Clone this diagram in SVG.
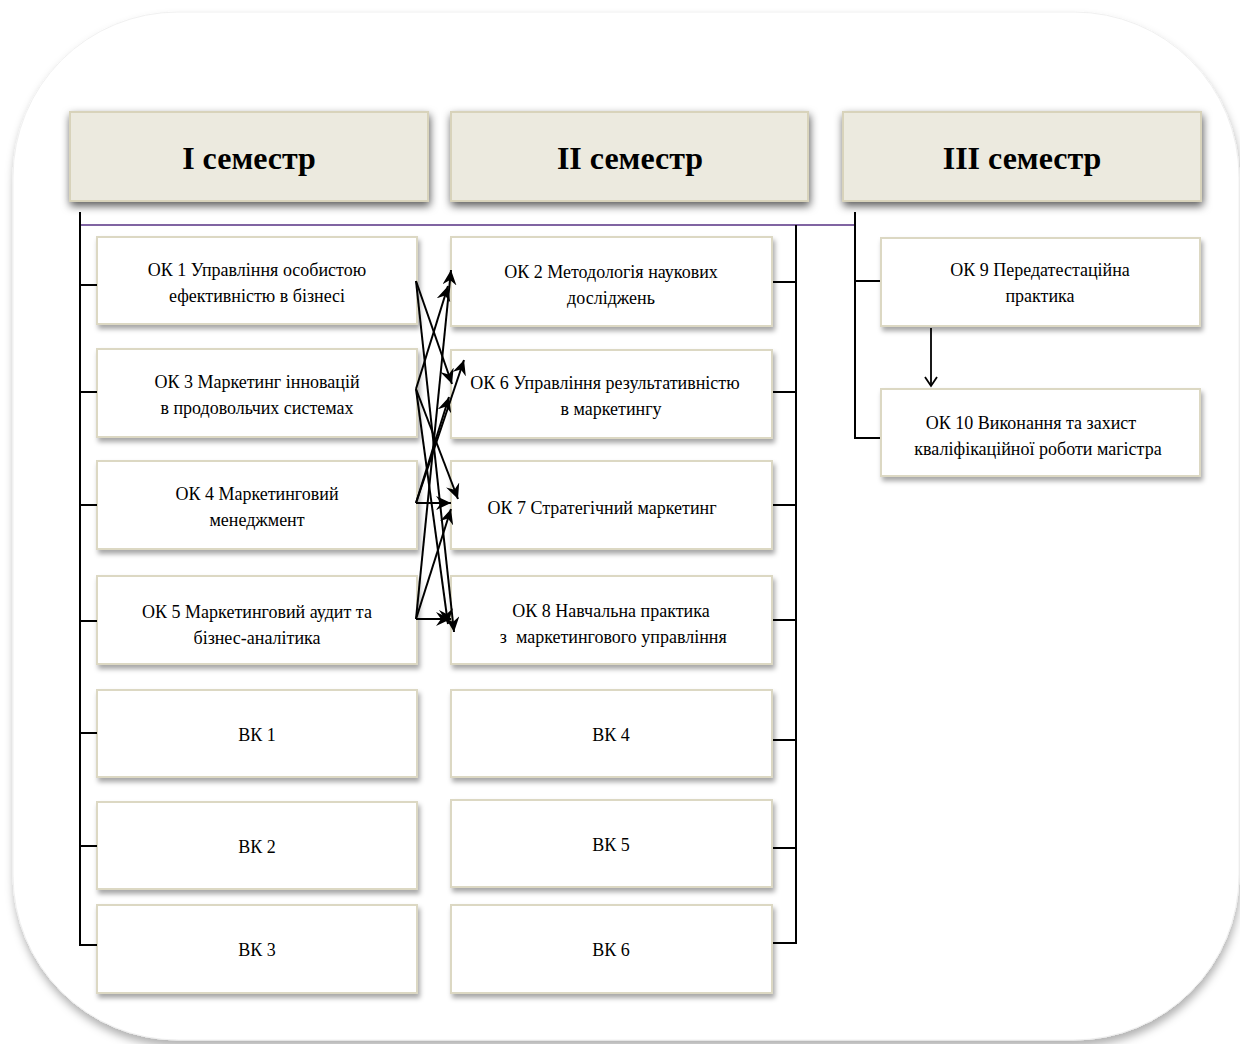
<svg xmlns="http://www.w3.org/2000/svg" width="1240" height="1044" viewBox="0 0 1240 1044">
<defs>
<filter id="outerSh" x="-5%" y="-5%" width="110%" height="110%">
<feDropShadow dx="1" dy="6" stdDeviation="4" flood-color="#000" flood-opacity="0.3"/>
</filter>
<filter id="hdrSh" x="-10%" y="-20%" width="120%" height="150%">
<feDropShadow dx="1" dy="4" stdDeviation="4" flood-color="#000" flood-opacity="0.65"/>
</filter>
<filter id="boxSh" x="-5%" y="-10%" width="110%" height="130%">
<feDropShadow dx="2" dy="4" stdDeviation="2.5" flood-color="#000" flood-opacity="0.35"/>
</filter>
<marker id="ah" markerUnits="userSpaceOnUse" markerWidth="16" markerHeight="14" refX="15" refY="7" orient="auto">
<path d="M0,0 L15,7 L0,14 L5,7 z" fill="#000"/>
</marker>
<marker id="av" markerUnits="userSpaceOnUse" markerWidth="14" markerHeight="14" refX="7" refY="12" orient="0">
<path d="M1,3 L7,12 L13,3" fill="none" stroke="#000" stroke-width="1.8"/>
</marker>
</defs>
<style>
.hdr rect{fill:#ECEADF;stroke:#D8D3BB;stroke-width:2;filter:url(#hdrSh)}
.hdr text{font-family:"Liberation Serif","Times New Roman",serif;font-weight:bold;font-size:32px;fill:#000;text-anchor:middle}
.box rect{fill:#fff;stroke:#DCD8C3;stroke-width:2;filter:url(#boxSh)}
.box text{font-family:"Liberation Serif","Times New Roman",serif;font-size:18px;fill:#000;text-anchor:middle}
.ln{stroke:#000;stroke-width:2;fill:none}
.arr{stroke:#000;stroke-width:2;fill:none;marker-end:url(#ah)}
</style>
<rect width="1240" height="1044" fill="#fff"/>
<rect x="13" y="12" width="1226" height="1028" rx="165" ry="165" fill="#fff" stroke="#F0F0F0" stroke-width="1" filter="url(#outerSh)"/>

<g id="hdr1" class="hdr"><rect x="70" y="112" width="358" height="89"/><text x="249" y="169">I семестр</text></g>
<g id="hdr2" class="hdr"><rect x="451" y="112" width="357" height="89"/><text x="630" y="169">II семестр</text></g>
<g id="hdr3" class="hdr"><rect x="843" y="112" width="358" height="89"/><text x="1022" y="169">III семестр</text></g>

<g id="ok1" class="box"><rect x="97" y="237" width="320" height="87"/><text x="257" y="276">ОК 1 Управління особистою</text><text x="257" y="302">ефективністю в бізнесі</text></g>
<g id="ok3" class="box"><rect x="97" y="349" width="320" height="88"/><text x="257" y="388">ОК 3 Маркетинг інновацій</text><text x="257" y="414">в продовольчих системах</text></g>
<g id="ok4" class="box"><rect x="97" y="461" width="320" height="88"/><text x="257" y="500">ОК 4 Маркетинговий</text><text x="257" y="526">менеджмент</text></g>
<g id="ok5" class="box"><rect x="97" y="576" width="320" height="88"/><text x="257" y="618">ОК 5 Маркетинговий аудит та</text><text x="257" y="644">бізнес-аналітика</text></g>
<g id="vk1" class="box"><rect x="97" y="690" width="320" height="87"/><text x="257" y="741">ВК 1</text></g>
<g id="vk2" class="box"><rect x="97" y="802" width="320" height="87"/><text x="257" y="853">ВК 2</text></g>
<g id="vk3" class="box"><rect x="97" y="905" width="320" height="88"/><text x="257" y="956">ВК 3</text></g>

<g id="ok2" class="box"><rect x="451" y="237" width="321" height="89"/><text x="611" y="278">ОК 2 Методологія наукових</text><text x="611" y="304">досліджень</text></g>
<g id="ok6" class="box"><rect x="451" y="350" width="321" height="88"/><text x="605" y="389">ОК 6 Управління результативністю</text><text x="611" y="415">в маркетингу</text></g>
<g id="ok7" class="box"><rect x="451" y="461" width="321" height="88"/><text x="602" y="514">ОК 7 Стратегічний маркетинг</text></g>
<g id="ok8" class="box"><rect x="451" y="576" width="321" height="88"/><text x="611" y="617">ОК 8 Навчальна практика</text><text x="611" y="643" xml:space="preserve"> з  маркетингового управління</text></g>
<g id="vk4" class="box"><rect x="451" y="690" width="321" height="87"/><text x="611" y="741">ВК 4</text></g>
<g id="vk5" class="box"><rect x="451" y="800" width="321" height="87"/><text x="611" y="851">ВК 5</text></g>
<g id="vk6" class="box"><rect x="451" y="905" width="321" height="88"/><text x="611" y="956">ВК 6</text></g>

<g id="ok9" class="box"><rect x="881" y="238" width="319" height="88"/><text x="1040" y="276">ОК 9 Передатестаційна</text><text x="1040" y="302">практика</text></g>
<g id="ok10" class="box"><rect x="881" y="389" width="319" height="87"/><text x="1031" y="429">ОК 10 Виконання та захист</text><text x="1038" y="455">кваліфікаційної роботи магістра</text></g>

<g id="connectors">
<line x1="81" y1="225" x2="855" y2="225" stroke="#8064A2" stroke-width="2"/>
<path class="ln" d="M80,212 V945 H97"/>
<path class="ln" d="M80,285 H97 M80,392 H97 M80,505 H97 M80,621 H97 M80,733 H97 M80,846 H97"/>
<path class="ln" d="M796,225 V943 H773"/>
<path class="ln" d="M773,282 H796 M773,392 H796 M773,505 H796 M773,620 H796 M773,740 H796 M773,848 H796"/>
<path class="ln" d="M855,212 V438 H880 M855,281 H880"/>
<line x1="931" y1="328" x2="931" y2="386" stroke="#000" stroke-width="1.8" marker-end="url(#av)"/>
<line class="arr" x1="416" y1="281" x2="452" y2="384"/>
<line class="arr" x1="416" y1="281" x2="454" y2="632"/>
<line class="arr" x1="416" y1="389" x2="448" y2="286"/>
<line class="arr" x1="416" y1="389" x2="458" y2="499"/>
<line class="arr" x1="416" y1="389" x2="448" y2="624"/>
<line class="arr" x1="416" y1="503" x2="464" y2="360"/>
<line class="arr" x1="416" y1="503" x2="449" y2="397"/>
<line class="arr" x1="416" y1="503" x2="451" y2="503"/>
<line class="arr" x1="416" y1="619" x2="451" y2="270"/>
<line class="arr" x1="416" y1="619" x2="451" y2="509"/>
<line class="arr" x1="416" y1="619" x2="451" y2="619"/>
</g>
</svg>
